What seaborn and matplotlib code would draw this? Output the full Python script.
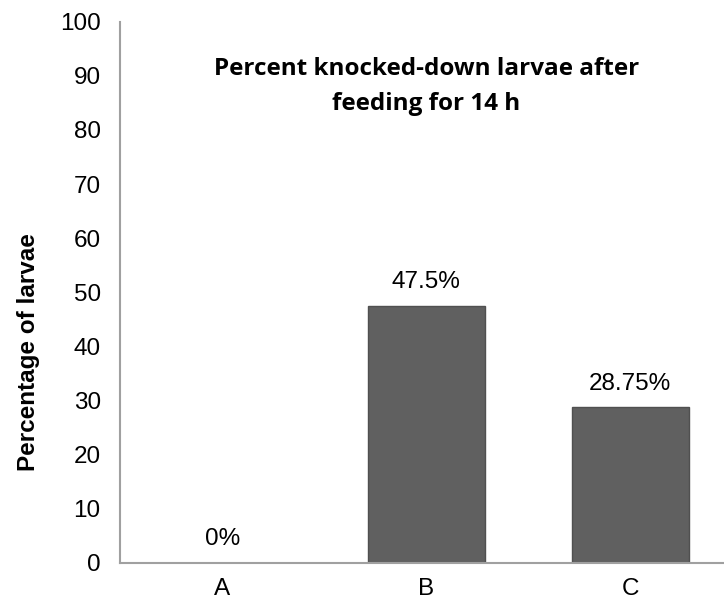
import pandas as pd
import matplotlib.pyplot as plt
import seaborn as sns

# Dados do gráfico
groups = ['A', 'B', 'C']
percent_knocked = [0, 47.5, 28.75]
bar_labels = ['0%', '47.5%', '28.75%']

df = pd.DataFrame({'group': groups, 'percent': percent_knocked})

sns.set_style('white')
plt.rcParams['font.family'] = ['Liberation Sans', 'DejaVu Sans']
plt.rcParams['text.color'] = 'black'
plt.rcParams['axes.labelcolor'] = 'black'

fig = plt.figure(figsize=(7.24, 6.04), dpi=100)
ax = fig.add_axes([0.166, 0.068, 0.834, 0.896])

# Barras
sns.barplot(data=df, x='group', y='percent', color='#606060', saturation=1,
            width=0.575, edgecolor='#505050', linewidth=1, ax=ax)

# Rótulos acima das barras
for i, (val, lab) in enumerate(zip(percent_knocked, bar_labels)):
    ax.annotate(lab, xy=(i, val), xytext=(0, 9), textcoords='offset points',
                ha='center', va='bottom', fontsize=17.5, color='black')

# Eixos
ax.set_ylim(0, 100)
ax.set_xlim(-0.5, 2.46)
ax.set_yticks(range(0, 101, 10))
ax.tick_params(axis='both', length=0, labelsize=17.5, colors='black')
ax.tick_params(axis='y', pad=14)
ax.tick_params(axis='x', pad=11)
ax.set_xlabel('')
ax.set_ylabel('Percentage of larvae', fontsize=17.5, fontweight='bold', color='black')
ax.yaxis.set_label_coords(-0.132, 0.39)

for side in ['top', 'right']:
    ax.spines[side].set_visible(False)
for side in ['left', 'bottom']:
    ax.spines[side].set_color('#a0a0a0')
    ax.spines[side].set_linewidth(1.5)

# Título dentro da área do gráfico
ax.text(1.0, 88, 'Percent knocked-down larvae after\nfeeding for 14 h',
        ha='center', va='center', fontsize=17.5, fontweight='bold', color='black',
        family=['Open Sans', 'DejaVu Sans'], linespacing=1.6)

fig.savefig('out.png', dpi=100)
